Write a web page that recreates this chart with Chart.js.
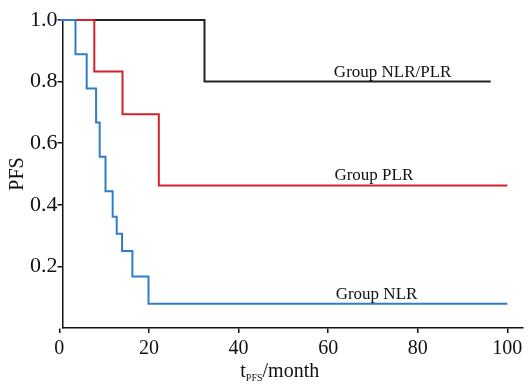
<!DOCTYPE html>
<html>
<head>
<meta charset="utf-8">
<script src="https://cdn.jsdelivr.net/npm/chart.js@4.4.1/dist/chart.umd.min.js"></script>
<style>
  html, body { margin: 0; padding: 0; background: #fff; }
  #wrap { width: 530px; height: 386px; }
</style>
</head>
<body>
<div id="wrap"><canvas id="myChart" width="530" height="386"></canvas></div>
<script>
// Kaplan-Meier steps (time in months, PFS)
const timeBoth = [0, 32.4, 96.3];
const pfsBoth = [1.0, 0.8, 0.8];

const timePLR = [0, 7.8, 14.1, 22.2, 100];
const pfsPLR = [1.0, 0.833, 0.694, 0.463, 0.463];

const timeNLR = [0, 3.6, 6.1, 8.2, 9.0, 10.3, 11.9, 12.8, 14.0, 16.3, 19.9, 100];
const pfsNLR = [1.0, 0.889, 0.778, 0.667, 0.556, 0.444, 0.361, 0.306, 0.25, 0.167, 0.079, 0.079];

const xTicks = [0, 20, 40, 60, 80, 100];
const yTicks = [0.2, 0.4, 0.6, 0.8, 1.0];

const groupNames = ["Group NLR/PLR", "Group PLR", "Group NLR"];
const labelX = [74.4, 70.2, 70.8];

const font = "'Liberation Serif', 'Times New Roman', serif";

function toPoints(xs, ys) {
  var pts = [];
  for (let i = 0; i < xs.length; i++) {
    pts.push({ x: xs[i], y: ys[i] });
  }
  return pts;
}

// group names above their lines + x title with subscript
const textPlugin = {
  id: "textPlugin",
  afterDraw(chart) {
    const ctx = chart.ctx;
    const xs = chart.scales.x;
    const ys = chart.scales.y;
    const levels = [pfsBoth[pfsBoth.length - 1], pfsPLR[pfsPLR.length - 1], pfsNLR[pfsNLR.length - 1]];
    ctx.save();
    ctx.fillStyle = "#111";
    ctx.font = "17px " + font;
    ctx.textAlign = "center";
    ctx.textBaseline = "alphabetic";
    for (let i = 0; i < groupNames.length; i++) {
      ctx.fillText(groupNames[i], xs.getPixelForValue(labelX[i]), ys.getPixelForValue(levels[i]) - 5);
    }
    // x axis title: t_PFS/month
    ctx.textAlign = "left";
    ctx.font = "20px " + font;
    const wT = ctx.measureText("t").width;
    const wM = ctx.measureText("/month").width;
    ctx.font = "10px " + font;
    const wS = ctx.measureText("PFS").width;
    const total = wT + wS + wM;
    let x0 = xs.getPixelForValue(49.2) - total / 2;
    const base = chart.chartArea.bottom + 49;
    ctx.font = "20px " + font;
    ctx.fillText("t", x0, base);
    ctx.font = "10px " + font;
    ctx.fillText("PFS", x0 + wT, base + 4);
    ctx.font = "20px " + font;
    ctx.fillText("/month", x0 + wT + wS, base);
    ctx.restore();
  }
};

var ctx = document.getElementById("myChart");
var myChart = new Chart(ctx, {
  type: "line",
  data: {
    datasets: [
      {
        label: groupNames[2],
        data: toPoints(timeNLR, pfsNLR),
        borderColor: "#2f7cc9",
        borderWidth: 2,
        stepped: true,
        pointRadius: 0,
        fill: false,
        clip: false,
      },
      {
        label: groupNames[1],
        data: toPoints(timePLR, pfsPLR),
        borderColor: "#d2222c",
        borderWidth: 2,
        stepped: true,
        pointRadius: 0,
        fill: false,
        clip: false,
      },
      {
        label: groupNames[0],
        data: toPoints(timeBoth, pfsBoth),
        borderColor: "#222",
        borderWidth: 2,
        stepped: true,
        pointRadius: 0,
        fill: false,
        clip: false,
      },
    ],
  },
  options: {
    responsive: false,
    animation: false,
    layout: { padding: { top: 20, right: 7, bottom: 21, left: 0 } },
    plugins: {
      legend: { display: false },
      tooltip: { enabled: false },
    },
    scales: {
      x: {
        type: "linear",
        min: 0.7,
        max: 103.5,
        afterBuildTicks: (axis) => { axis.ticks = xTicks.map((v) => ({ value: v })); },
        grid: { display: true, drawOnChartArea: false, drawTicks: true, tickLength: 5, color: "#111", lineWidth: 1.5 },
        border: { display: true, color: "#111", width: 1.5 },
        ticks: { color: "#111", font: { family: font, size: 20 }, padding: 4, maxRotation: 0 },
      },
      y: {
        type: "linear",
        min: 0,
        max: 1.0,
        afterBuildTicks: (axis) => { axis.ticks = yTicks.map((v) => ({ value: v })); },
        grid: { display: true, drawOnChartArea: false, drawTicks: true, tickLength: 5, color: "#111", lineWidth: 1.5 },
        border: { display: true, color: "#111", width: 1.5 },
        ticks: { color: "#111", font: { family: font, size: 22 }, padding: 0, callback: (v) => v.toFixed(1) },
        title: { display: true, text: "PFS", color: "#111", font: { family: font, size: 20 }, padding: { top: 6, bottom: 0 } },
      },
    },
  },
  plugins: [textPlugin],
});
</script>
</body>
</html>
